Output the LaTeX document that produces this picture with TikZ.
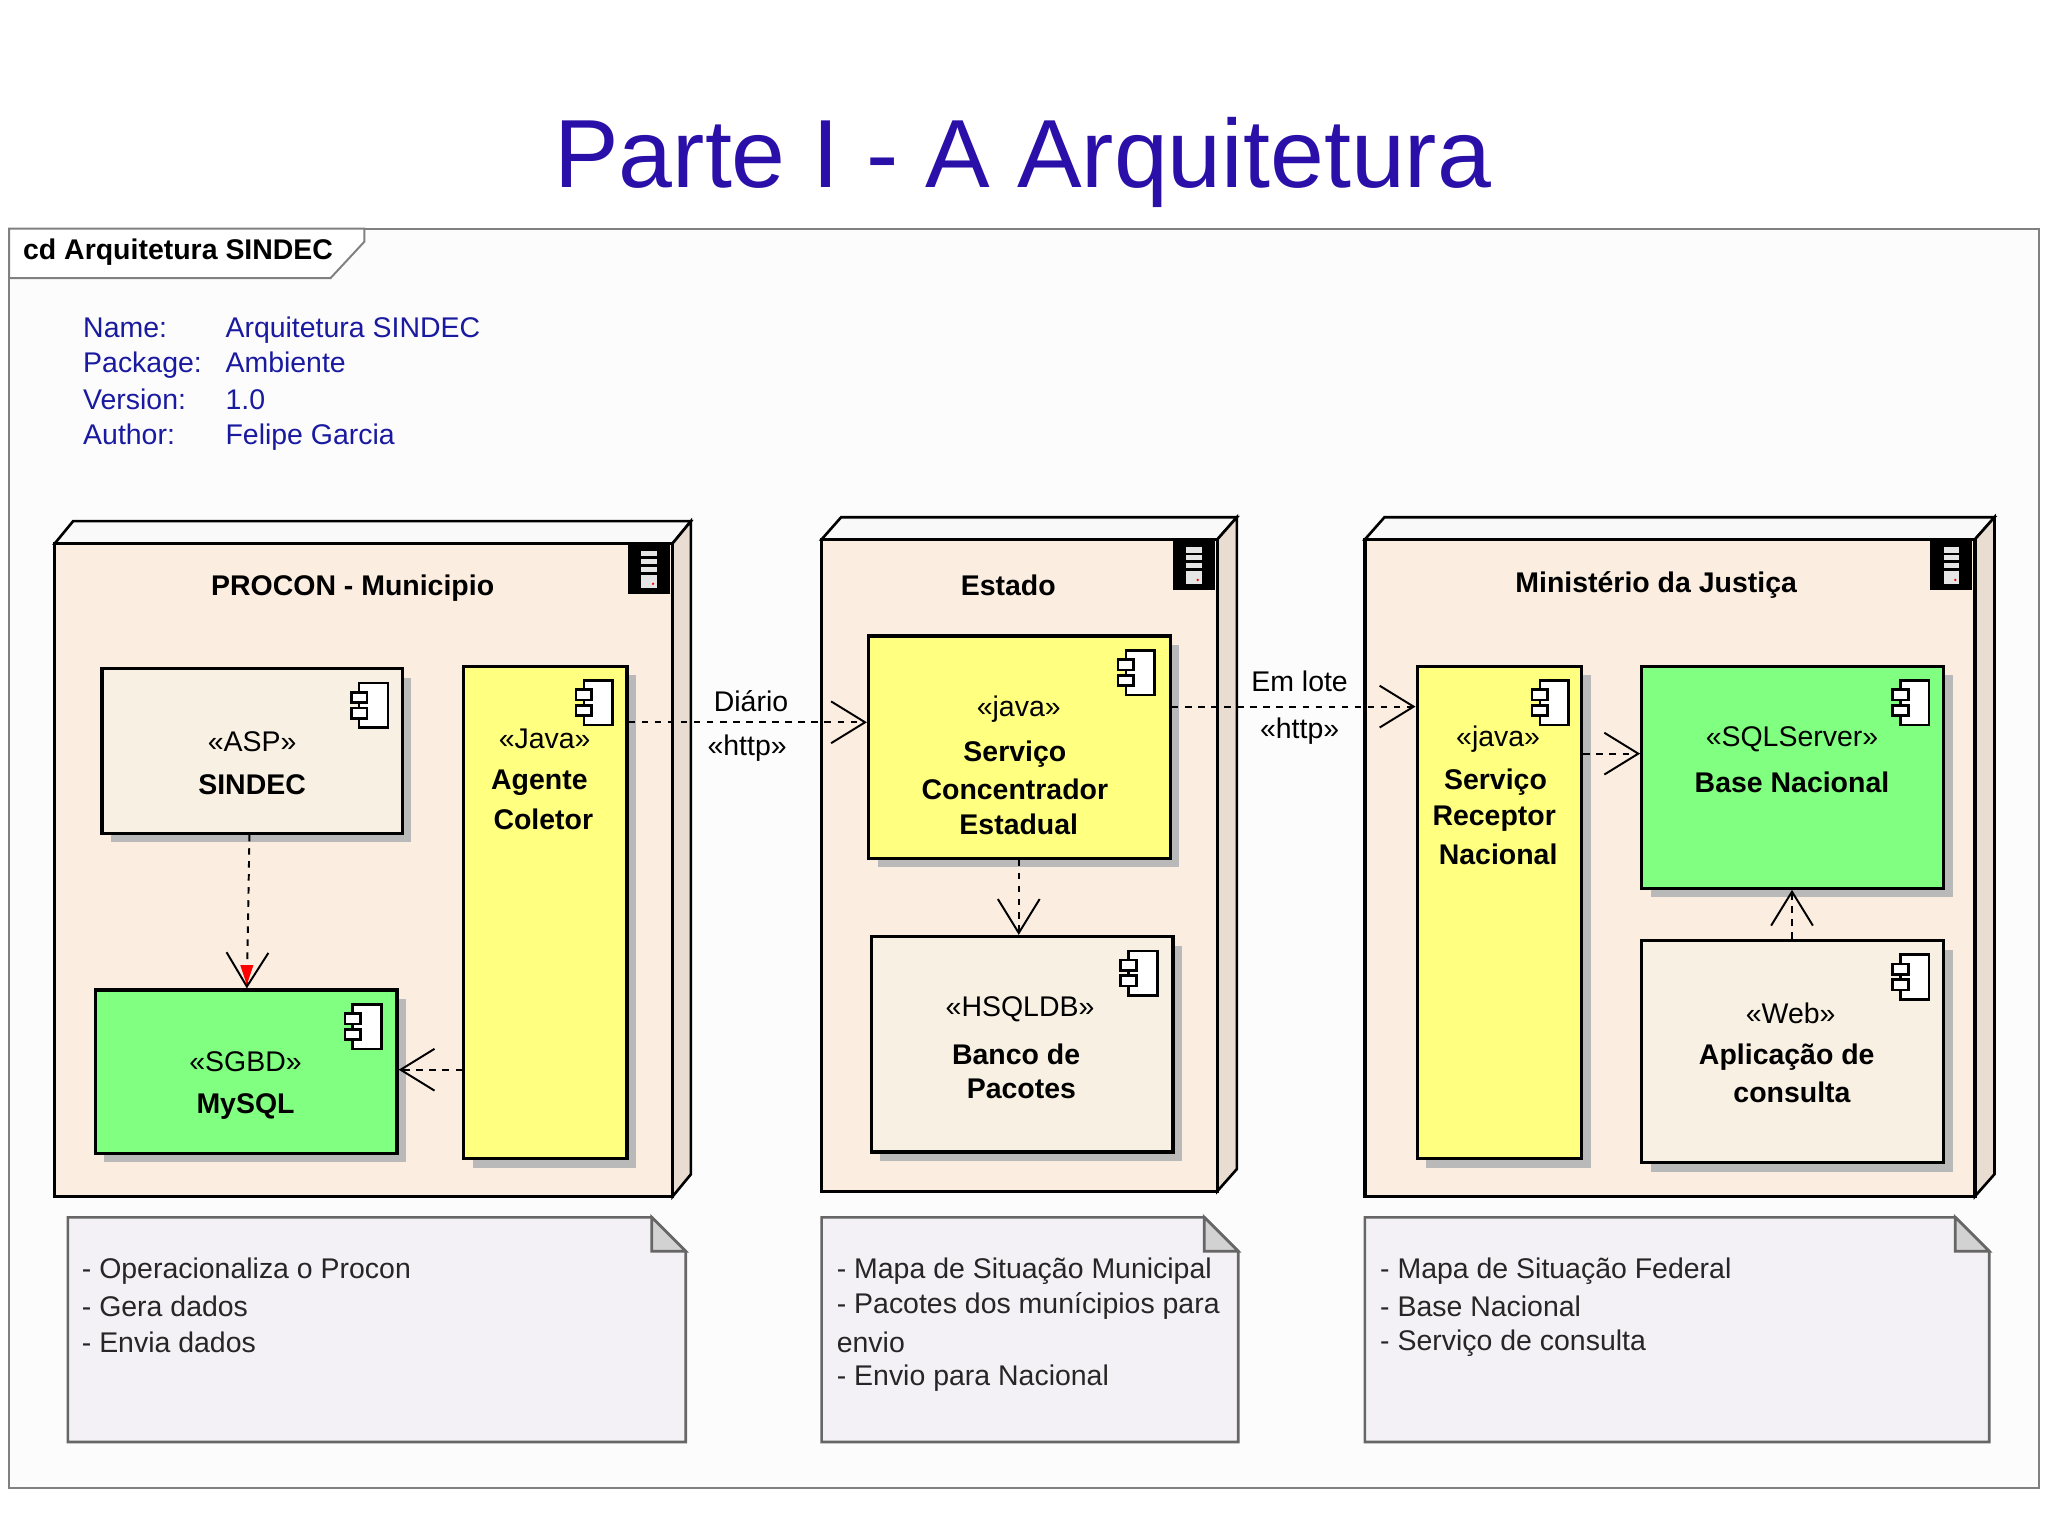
\documentclass[tikz,border=0pt]{standalone}
\usepackage{fontspec}
\setmainfont{Liberation Sans}
\usetikzlibrary{arrows.meta,fit,shadows}
\definecolor{peach}{HTML}{FBEEE0}
\definecolor{beige}{HTML}{F8F0E2}
\definecolor{yel}{HTML}{FFFF80}
\definecolor{grn}{HTML}{80FF80}
\definecolor{notec}{HTML}{F3F1F5}
\definecolor{ttl}{HTML}{2A10A8}
\definecolor{info}{HTML}{1A1AA0}
\tikzset{
 bx/.style={draw=black,line width=0.25mm,inner sep=0pt,drop shadow={shadow xshift=0.7mm,shadow yshift=-0.7mm,fill=gray!55,opacity=1}},
 dep/.style={draw=black,dashed,dash pattern=on 0.5mm off 0.5mm,line width=0.15mm,-{Straight Barb[length=2.6mm,width=3.2mm]}},
 lab/.style={font=\fontsize{6.2}{7.5}\selectfont,inner sep=0pt},
 blab/.style={font=\fontsize{6.2}{7.5}\selectfont\bfseries,inner sep=0pt},
 ntxt/.style={font=\fontsize{6.2}{7.5}\selectfont,inner sep=0pt,anchor=west,text=black!85},
}
\newcommand\nodebox[6]{% name x1 y1 x2 y2 dz
 \fill[white!95!gray,draw=black,line width=0.2mm] (#2,#3)--(#2+#6,#3-17)--(#4+#6,#3-17)--(#4,#3)--cycle;
 \fill[gray!15!peach,draw=black,line width=0.2mm] (#4,#3)--(#4+#6,#3-17)--(#4+#6,#5-17)--(#4,#5)--cycle;
 \node[draw=black,fill=peach,line width=0.25mm,inner sep=0pt,fit={(#2,#3)(#4,#5)}] (#1) {};
}
\newcommand\cicon[2]{%
 \begin{scope}[shift={(#1,#2)}]
 \draw[line width=0.2mm,fill=white] (-11,-17) rectangle (11,17);
 \draw[line width=0.2mm,fill=white] (-17,-10) rectangle (-5,-2);
 \draw[line width=0.2mm,fill=white] (-17,2) rectangle (-5,10);
 \end{scope}}
\newcommand\srvicon[2]{%
 \begin{scope}[shift={(#1,#2)}]
 \fill[black] (-16,-19) rectangle (16,19);
 \fill[white!80!gray] (-6,-14) rectangle (6,14);
 \foreach \k in {-9,-3,3} \draw[black,line width=0.2mm] (-6,\k) -- (6,\k);
 \fill[red] (3,11) circle (1);
 \end{scope}}
\newcommand\notebox[4]{%
 \draw[gray!80!black,fill=notec,line width=0.2mm] (#1,#2)--(#3-26,#2)--(#3,#2+26)--(#3,#4)--(#1,#4)--cycle;
 \draw[gray!80!black,fill=gray!35,line width=0.2mm] (#3-26,#2)--(#3-26,#2+26)--(#3,#2+26)--cycle;}
\begin{document}
\begin{tikzpicture}[x=0.1mm,y=-0.1mm]
\useasboundingbox (0,0) rectangle (1568,1176);
\fill[white] (0,0) rectangle (1568,1176);
\node[text=ttl,font=\fontsize{21.1}{26}\selectfont,inner sep=0pt] (title) at (783,124) {Parte I - A Arquitetura};
\fill[black!1] (7,175) rectangle (1561,1139);
\draw[gray,line width=0.15mm] (7,175) rectangle (1561,1139);
\draw[gray,line width=0.15mm,fill=white] (7,175)--(279,175)--(279,185)--(253,213)--(7,213)--cycle;
\node[blab,anchor=west] (cd) at (17,193) {cd Arquitetura SINDEC};
\foreach \a/\b/\yy in {Name:/Arquitetura SINDEC/253,Package:/Ambiente/280,Version:/1.0/308,Author:/Felipe Garcia/335}{
 \node[lab,anchor=west,text=info] at (63,\yy) {\strut\a};
 \node[lab,anchor=west,text=info] at (172,\yy) {\strut\b};}
% nodes
\nodebox{procon}{42}{416}{515}{916}{14}
\nodebox{estado}{629}{413}{932}{912}{15}
\nodebox{mj}{1045}{413}{1512}{916}{15}
\srvicon{497}{436}\srvicon{914}{433}\srvicon{1494}{433}
\node[blab] at (270,450) {PROCON - Municipio};
\node[blab] at (772,448) {Estado};
\node[blab] at (1268,448) {Ministério da Justiça};
% components
\node[bx,fill=beige,fit={(78,512)(308,638)}] (sindec) {};
\node[bx,fill=yel,fit={(355,510)(480,887)}] (agente) {};
\node[bx,fill=grn,fit={(73,758)(304,883)}] (mysql) {};
\node[bx,fill=yel,fit={(665,487)(896,657)}] (conc) {};
\node[bx,fill=beige,fit={(667,717)(898,882)}] (banco) {};
\node[bx,fill=yel,fit={(1085,510)(1211,887)}] (recep) {};
\node[bx,fill=grn,fit={(1257,510)(1488,680)}] (base) {};
\node[bx,fill=beige,fit={(1257,720)(1488,890)}] (aplic) {};
\cicon{286}{540}\cicon{458}{538}\cicon{281}{786}\cicon{873}{515}\cicon{875}{745}
\cicon{1190}{538}\cicon{1466}{538}\cicon{1466}{748}
\node[lab] at (193,568) {«ASP»}; \node[blab] at (193,601) {SINDEC};
\node[lab] at (417,566) {«Java»}; \node[blab] at (413,599) {Agente}; \node[blab] at (416,627) {Coletor};
\node[lab] at (188,813) {«SGBD»}; \node[blab] at (188,847) {MySQL};
\node[lab] at (780,543) {«java»}; \node[blab] at (777,577) {Serviço}; \node[blab] at (777,604) {Concentrador}; \node[blab] at (780,631) {Estadual};
\node[lab] at (781,773) {«HSQLDB»}; \node[blab] at (778,807) {Banco de}; \node[blab] at (782,834) {Pacotes};
\node[lab] at (1147,566) {«java»}; \node[blab] at (1145,599) {Serviço}; \node[blab] at (1144,627) {Receptor}; \node[blab] at (1147,654) {Nacional};
\node[lab] at (1372,566) {«SQLServer»}; \node[blab] at (1372,599) {Base Nacional};
\node[lab] at (1371,776) {«Web»}; \node[blab] at (1368,809) {Aplicação de}; \node[blab] at (1372,836) {consulta};
% connectors
\draw[dep] (sindec.south -| 191,0) -- (mysql.north -| 189,0);
\fill[red] (184,739) -- (194,739) -- (189,754) -- cycle;
\draw[dep] (agente.west |- 0,819) -- (mysql.east |- 0,819);
\draw[dep] (agente.east |- 0,553) -- (conc.west |- 0,553);
\node[lab] at (575,537) {Diário}; \node[lab] at (572,573) {«http»};
\draw[dep] (conc.south -| 780,0) -- (banco.north -| 780,0);
\draw[dep] (conc.east |- 0,541) -- (recep.west |- 0,541);
\node[lab] at (995,522) {Em lote}; \node[lab] at (995,560) {«http»};
\draw[dep] (recep.east |- 0,577) -- (base.west |- 0,577);
\draw[dep] (aplic.north -| 1372,0) -- (base.south -| 1372,0);
% notes
\notebox{52}{932}{525}{1104}
\notebox{629}{932}{948}{1104}
\notebox{1045}{932}{1523}{1104}
\node[ntxt] (n1) at (62,973) {- Operacionaliza o Procon};
\node[ntxt] at (62,1000) {- Gera dados};
\node[ntxt] at (62,1028) {- Envia dados};
\node[ntxt] (n2) at (640,973) {- Mapa de Situação Municipal};
\node[ntxt] at (640,1000) {- Pacotes dos munícipios para};
\node[ntxt] at (640,1028) {envio};
\node[ntxt] at (640,1055) {- Envio para Nacional};
\node[ntxt] (n3) at (1056,973) {- Mapa de Situação Federal};
\node[ntxt] at (1056,1000) {- Base Nacional};
\node[ntxt] at (1056,1028) {- Serviço de consulta};
\end{tikzpicture}
\end{document}
